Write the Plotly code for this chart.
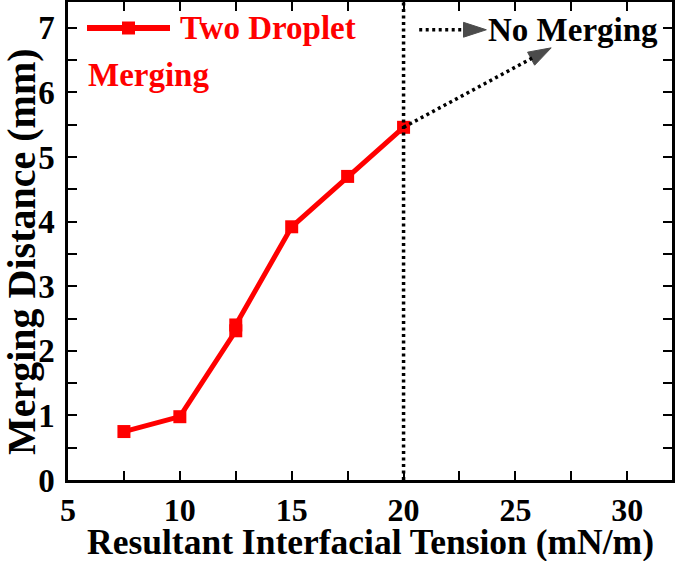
import plotly.graph_objects as go

# Data
tension = [7.5, 10, 12.5, 12.5, 15, 17.5, 20]
distance = [0.75, 0.98, 2.31, 2.40, 3.92, 4.70, 5.46]
threshold = 20
arrow_h_x = [20.7, 23.7]
arrow_h_y = [6.97, 6.97]
arrow_d_x = [20.0, 26.6]
arrow_d_y = [5.46, 6.69]
x_ticks = [5, 10, 15, 20, 25, 30]
y_ticks = [0, 1, 2, 3, 4, 5, 6, 7]

FONT = "Liberation Serif"
RED = "#ff0000"

fig = go.Figure()
fig.add_trace(go.Scatter(x=tension, y=distance, mode="lines+markers",
                         line=dict(color=RED, width=5),
                         marker=dict(symbol="square", size=13, color=RED),
                         showlegend=False))
for xs, ys in [(arrow_h_x, arrow_h_y), (arrow_d_x, arrow_d_y)]:
    fig.add_trace(go.Scatter(x=xs, y=ys, mode="lines+markers",
                             line=dict(color="black", width=3.5, dash="3px,3.5px"),
                             marker=dict(symbol=["circle", "arrow"], size=[0, 24],
                                         angleref="previous", color="black",
                                         line=dict(width=1, color="black")),
                             showlegend=False))

fig.add_shape(type="line", xref="x", yref="paper", x0=threshold, x1=threshold,
              y0=0, y1=1, line=dict(color="black", width=3.5, dash="3px,3.5px"))

PW, PH = 604, 478
def px(x):
    return (x - 68) / PW
def py(y):
    return (480 - y) / PH

# legend sample
ly = py(28)
fig.add_shape(type="line", xref="paper", yref="paper", x0=px(87), x1=px(170),
              y0=ly, y1=ly, line=dict(color=RED, width=6))
fig.add_shape(type="rect", xref="paper", yref="paper", x0=px(122), x1=px(135),
              y0=ly - 6.5 / PH, y1=ly + 6.5 / PH, line=dict(width=0), fillcolor=RED)
fig.add_annotation(xref="paper", yref="paper", x=px(178), y=ly, xanchor="left",
                   yanchor="middle", text="<b>Two Droplet</b>", showarrow=False,
                   font=dict(family=FONT, size=33, color=RED))
fig.add_annotation(xref="paper", yref="paper", x=px(86), y=py(75),
                   xanchor="left", yanchor="middle", text="<b>Merging</b>", showarrow=False,
                   font=dict(family=FONT, size=33, color=RED))
fig.add_annotation(xref="paper", yref="paper", x=px(486), y=py(30),
                   xanchor="left", yanchor="middle", text="<b>No Merging</b>", showarrow=False,
                   font=dict(family=FONT, size=33, color="black"))

# axis titles
fig.add_annotation(xref="paper", yref="paper", x=px(370), y=py(542),
                   xanchor="center", yanchor="middle", showarrow=False,
                   text="<b>Resultant Interfacial Tension (mN/m)</b>",
                   font=dict(family=FONT, size=35.5, color="black"))
fig.add_annotation(xref="paper", yref="paper", x=px(21), y=py(252),
                   xanchor="center", yanchor="middle", showarrow=False, textangle=-90,
                   text="<b>Merging Distance (mm)</b>",
                   font=dict(family=FONT, size=40, color="black"))

axis_common = dict(showline=True, linecolor="black", linewidth=2.5, mirror="ticks",
                   ticks="inside", ticklen=9, tickwidth=2, tickcolor="black",
                   showgrid=False, zeroline=False, automargin=False)
fig.update_xaxes(range=[5, 32], tickvals=x_ticks, ticktext=[f"<b>{v}</b>" for v in x_ticks],
                 minor=dict(dtick=2.5, tick0=5, ticks="inside", ticklen=9, tickwidth=2, tickcolor="black"),
                 tickfont=dict(family=FONT, size=32, color="black"),
                 **axis_common)
fig.update_yaxes(range=[0, 7.4], tickvals=y_ticks, ticktext=[f"<b>{v}</b>" for v in y_ticks],
                 minor=dict(dtick=0.5, tick0=0, ticks="inside", ticklen=9, tickwidth=2, tickcolor="black"),
                 ticklabelstandoff=4,
                 tickfont=dict(family=FONT, size=33, color="black"),
                 **axis_common)

fig.update_layout(width=675, height=561, margin=dict(l=68, r=3, t=2, b=81),
                  plot_bgcolor="white", paper_bgcolor="white", showlegend=False)
fig.write_html("out.html", config={"displayModeBar": False},
               post_script="document.body.style.margin='0';")
